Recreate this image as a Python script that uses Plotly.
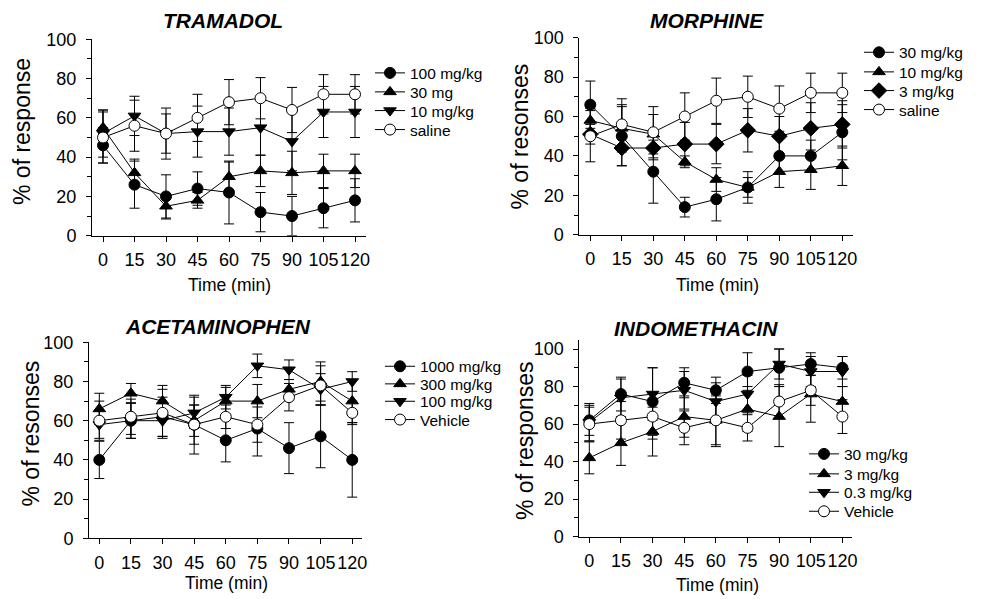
import plotly.graph_objects as go

W, H = 981, 599
FONT = "Arial, Liberation Sans, sans-serif"

time_min = [0, 15, 30, 45, 60, 75, 90, 105, 120]
x_ticks = [0, 15, 30, 45, 60, 75, 90, 105, 120]
y_ticks = [0, 20, 40, 60, 80, 100]

# ---------------- TRAMADOL ----------------
tram_labels = ["100 mg/kg", "30 mg", "10 mg/kg", "saline"]
tram_100 = [46, 26, 20, 24, 22, 12, 10, 14, 18]
tram_100_err = [9, 12, 11, 8.5, 16, 10, 10, 10, 11]
tram_30 = [55, 32, 15, 18, 30, 33, 32, 33, 33]
tram_30_err = [9, 7, 6.5, 4, 7.5, 8, 11, 8.5, 8.5]
tram_10 = [52, 61, 52, 53, 53, 55, 48, 63, 63]
tram_10_err = [12, 10, 10, 13, 12, 14, 15, 13, 13]
tram_sal = [50, 56, 52, 60, 68, 70, 64, 72, 72]
tram_sal_err = [13, 13, 13, 12, 11.5, 10.5, 11.5, 10, 10]

# ---------------- MORPHINE ----------------
morph_labels = ["30 mg/kg", "10 mg/kg", "3 mg/kg", "saline"]
morph_30 = [66, 50, 32, 14, 18, 24, 40, 40, 52]
morph_30_err = [12, 15, 16, 5, 11, 8, 9, 8, 14]
morph_10 = [58, 54, 51, 37, 28, 24, 32, 33, 35]
morph_10_err = [6, 12, 10, 3, 6, 5, 8, 10, 10]
morph_3 = [51, 44, 44, 46, 46, 53, 50, 54, 56]
morph_3_err = [5, 9, 6, 11, 10, 11, 10, 13, 12]
morph_sal = [50, 56, 52, 60, 68, 70, 64, 72, 72]
morph_sal_err = [13, 13, 13, 12, 11.5, 10.5, 11.5, 10, 10]

# ---------------- ACETAMINOPHEN ----------------
acet_labels = ["1000 mg/kg", "300 mg/kg", "100 mg/kg", "Vehicle"]
acet_1000 = [40, 60, 62, 58, 50, 56, 46, 52, 40]
acet_1000_err = [9.5, 9, 10, 10, 11, 14, 13, 16, 19]
acet_300 = [66, 74, 70, 60, 70, 70, 76, 80, 70]
acet_300_err = [8, 5, 8, 8, 7, 8.5, 5, 10, 11]
acet_100 = [58, 60, 60, 64, 72, 88, 86, 76, 80]
acet_100_err = [7, 9, 9, 8, 6, 6, 5, 8, 5]
acet_veh = [60, 62, 64, 58, 62, 58, 72, 78, 64]
acet_veh_err = [10, 9, 12, 15, 6, 9, 7, 10, 6]

# ---------------- INDOMETHACIN ----------------
indo_labels = ["30 mg/kg", "3 mg/kg", "0.3 mg/kg", "Vehicle"]
indo_30 = [62, 76, 72, 82, 78, 88, 90, 92, 90]
indo_30_err = [8, 9, 18, 8, 7, 10, 10, 6, 6]
indo_3 = [42, 50, 56, 64, 62, 68, 64, 76, 72]
indo_3_err = [8.5, 12, 13, 11, 13, 12, 16, 15, 8]
indo_03 = [61, 74, 76, 78, 72, 76, 92, 88, 88]
indo_03_err = [10, 10, 14, 10, 10, 10, 8, 8, 8]
indo_veh = [60, 62, 64, 58, 62, 58, 72, 78, 64]
indo_veh_err = [9, 10, 12, 9, 14, 7, 9, 8, 9]

# ---------------- layout geometry (pixels) ----------------
def px_x(p):
    return p / W

def px_y(p):
    return 1 - p / H

panels = [
    dict(name="TRAMADOL", ytitle="% of response",
         xdom=(92, 366), ydom=(39.3, 235.7), xr=(-5.24, 125.24), yr=(0, 100),
         title_xy=(222.5, 20.5), ytitle_xy=(22, 132), xtitle_xy=(229, 285),
         legend_x=370, legend_rows=[73.3, 92.3, 111, 130],
         series=[(tram_100, tram_100_err), (tram_30, tram_30_err),
                 (tram_10, tram_10_err), (tram_sal, tram_sal_err)],
         labels=tram_labels,
         symbols=["circle", "triangle-up", "triangle-down", "circle"]),
    dict(name="MORPHINE", ytitle="% of resonses",
         xdom=(579.3, 852.7), ydom=(37.7, 234.7), xr=(-5.24, 124.95), yr=(0, 100),
         title_xy=(707, 20.5), ytitle_xy=(519.5, 137), xtitle_xy=(717, 285),
         legend_x=859, legend_rows=[52.7, 72.3, 91, 110],
         series=[(morph_30, morph_30_err), (morph_10, morph_10_err),
                 (morph_3, morph_3_err), (morph_sal, morph_sal_err)],
         labels=morph_labels,
         symbols=["circle", "triangle-up", "diamond", "circle"]),
    dict(name="ACETAMINOPHEN", ytitle="% of resonses",
         xdom=(89, 361.7), ydom=(342.3, 538.3), xr=(-4.89, 124.5), yr=(0, 100),
         title_xy=(217.5, 326), ytitle_xy=(30.5, 434), xtitle_xy=(226, 583),
         legend_x=380, legend_rows=[366.7, 384.3, 401.7, 420],
         series=[(acet_1000, acet_1000_err), (acet_300, acet_300_err),
                 (acet_100, acet_100_err), (acet_veh, acet_veh_err)],
         labels=acet_labels,
         symbols=["circle", "triangle-up", "triangle-down", "circle"]),
    dict(name="INDOMETHACIN", ytitle="% of responses",
         xdom=(579.3, 851.7), ydom=(340, 536.7), xr=(-4.74, 124.4), yr=(0, 104.8),
         title_xy=(695.5, 328.5), ytitle_xy=(525, 441), xtitle_xy=(717.5, 585),
         legend_x=804, legend_rows=[454.3, 474.3, 492.7, 511.7],
         series=[(indo_30, indo_30_err), (indo_3, indo_3_err),
                 (indo_03, indo_03_err), (indo_veh, indo_veh_err)],
         labels=indo_labels,
         symbols=["circle", "triangle-up", "triangle-down", "circle"]),
]

fig = go.Figure()
annotations = []
layout_axes = {}
leg_count = 0

for i, p in enumerate(panels):
    n = i + 1
    xa = "x" if n == 1 else f"x{n}"
    ya = "y" if n == 1 else f"y{n}"
    for k, ((vals, errs), lab, sym) in enumerate(zip(p["series"], p["labels"], p["symbols"])):
        leg_count += 1
        leg = "legend" if leg_count == 1 else f"legend{leg_count}"
        open_marker = (k == 3)
        fig.add_trace(go.Scatter(
            x=time_min, y=vals, name=lab, mode="lines+markers",
            xaxis=xa, yaxis=ya, legend=leg,
            line=dict(color="black", width=1),
            marker=dict(symbol=sym, size=11 if sym != "diamond" else 12,
                        color="white" if open_marker else "black",
                        line=dict(color="black", width=1)),
            error_y=dict(type="data", array=errs, visible=True,
                         color="black", thickness=1, width=5),
            cliponaxis=False,
        ))
        layout_axes[leg] = dict(
            x=px_x(p["legend_x"]), y=px_y(p["legend_rows"][k]),
            xanchor="left", yanchor="middle", bgcolor="rgba(0,0,0,0)",
            borderwidth=0, font=dict(family=FONT, size=15.5, color="black"),
            tracegroupgap=0, itemwidth=30)
    axis_common = dict(showline=True, linecolor="black", linewidth=1,
                       ticks="outside", ticklen=5, tickwidth=1, tickcolor="black",
                       showgrid=False, zeroline=False, automargin=False,
                       tickfont=dict(family=FONT, size=18, color="black"))
    layout_axes["xaxis" if n == 1 else f"xaxis{n}"] = dict(
        axis_common, domain=[px_x(p["xdom"][0]), px_x(p["xdom"][1])],
        range=list(p["xr"]), tickmode="array", tickvals=x_ticks,
        ticktext=[str(t) for t in x_ticks], anchor=ya, ticklabelstandoff=3,
        tickangle=0)
    layout_axes["yaxis" if n == 1 else f"yaxis{n}"] = dict(
        axis_common, domain=[px_y(p["ydom"][1]), px_y(p["ydom"][0])],
        range=list(p["yr"]), tickmode="array", tickvals=y_ticks,
        ticktext=[str(t) for t in y_ticks], anchor=xa, ticklabelstandoff=6,
        minor=dict(tickvals=[10, 30, 50, 70, 90], ticks="outside", ticklen=4,
                   tickwidth=1, tickcolor="black"))
    annotations.append(dict(
        text=f"<b><i>{p['name']}</i></b>", x=px_x(p["title_xy"][0]), y=px_y(p["title_xy"][1]),
        xref="paper", yref="paper", xanchor="center", yanchor="middle", showarrow=False,
        font=dict(family=FONT, size=21, color="black")))
    annotations.append(dict(
        text=p["ytitle"], x=px_x(p["ytitle_xy"][0]), y=px_y(p["ytitle_xy"][1]),
        xref="paper", yref="paper", xanchor="center", yanchor="middle", showarrow=False,
        textangle=-90, font=dict(family=FONT, size=23, color="black")))
    annotations.append(dict(
        text="Time (min)", x=px_x(p["xtitle_xy"][0]), y=px_y(p["xtitle_xy"][1]),
        xref="paper", yref="paper", xanchor="center", yanchor="middle", showarrow=False,
        font=dict(family=FONT, size=17.5, color="black")))

fig.update_layout(
    width=W, height=H, margin=dict(l=0, r=0, t=0, b=0, autoexpand=False),
    paper_bgcolor="white", plot_bgcolor="white",
    font=dict(family=FONT, color="black"),
    annotations=annotations, showlegend=True,
    **layout_axes,
)

fig.write_html("out.html", config={"displayModeBar": False},
               post_script="document.body.style.margin='0';document.body.style.padding='0';")
